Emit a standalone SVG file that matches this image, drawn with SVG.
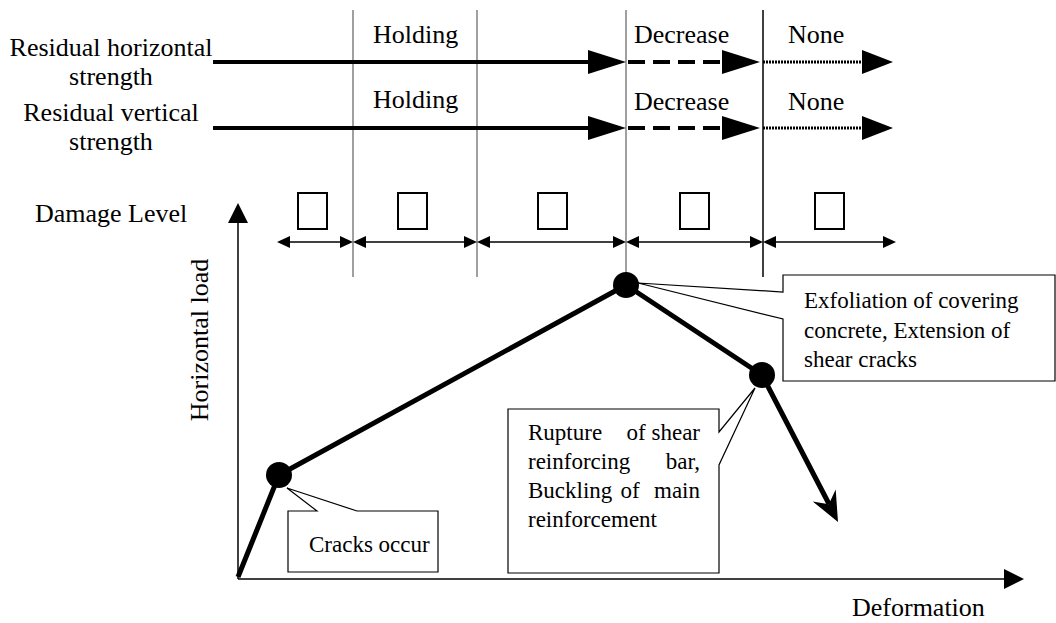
<svg xmlns="http://www.w3.org/2000/svg" width="1056" height="623" viewBox="0 0 1056 623">
<style>
text{font-family:"Liberation Serif",Tinos,"Times New Roman",Times,"DejaVu Serif","Noto Serif",serif;fill:#000}
.lab{font-size:26px}
.co{font-size:23px}
.grid{stroke:#808080;stroke-width:1.5;fill:none}
.thick{stroke:#000;stroke-width:4;fill:none}
.dash{stroke:#000;stroke-width:4;fill:none;stroke-dasharray:17 8}
.dot{stroke:#000;stroke-width:3;fill:none;stroke-dasharray:2 1}
.thin{stroke:#000;stroke-width:1.5;fill:none}
.box{stroke:#000;stroke-width:1.2;fill:#fff}
.lvl{stroke:#000;stroke-width:2;fill:#fff}
.head{fill:#000}
</style>
<g id="grid">
<line class="grid" x1="353" y1="10" x2="353" y2="277"/>
<line class="grid" x1="477" y1="10" x2="477" y2="277"/>
<line class="grid" x1="626" y1="10" x2="626" y2="277"/>
<line class="grid" x1="763" y1="10" x2="763" y2="277" style="stroke:#000"/>
</g>
<g id="labels">
<text class="lab" x="111" y="56" text-anchor="middle">Residual horizontal</text>
<text class="lab" x="111" y="85" text-anchor="middle">strength</text>
<text class="lab" x="111" y="121" text-anchor="middle">Residual vertical</text>
<text class="lab" x="111" y="150" text-anchor="middle">strength</text>
<text class="lab" x="35" y="222">Damage Level</text>
<text class="lab" x="373" y="43">Holding</text>
<text class="lab" x="373" y="108">Holding</text>
<text class="lab" x="634" y="43">Decrease</text>
<text class="lab" x="634" y="110">Decrease</text>
<text class="lab" x="788" y="43">None</text>
<text class="lab" x="788" y="110">None</text>
<text class="lab" x="852" y="616">Deformation</text>
<text class="lab" transform="translate(208,340) rotate(-90)" text-anchor="middle">Horizontal load</text>
</g>
<g id="connectors">
<line class="thick" x1="213" y1="62" x2="592" y2="62"/>
<polygon class="head" points="588,50 626,62 588,74"/>
<line class="dash" x1="628" y1="62" x2="724" y2="62"/>
<polygon class="head" points="722,50 760,62 722,74"/>
<line class="dot" x1="763" y1="62" x2="864" y2="62"/>
<polygon class="head" points="862,50 893,62 862,74"/>
<line class="thick" x1="213" y1="128" x2="592" y2="128"/>
<polygon class="head" points="588,116 626,128 588,140"/>
<line class="dash" x1="628" y1="128" x2="724" y2="128"/>
<polygon class="head" points="722,116 760,128 722,140"/>
<line class="dot" x1="763" y1="128" x2="864" y2="128"/>
<polygon class="head" points="862,116 893,128 862,140"/>
<line class="thin" x1="280" y1="242" x2="350" y2="242"/>
<polygon class="head" points="277,242 290,236 290,248"/>
<polygon class="head" points="353,242 340,236 340,248"/>
<line class="thin" x1="356" y1="242" x2="474" y2="242"/>
<polygon class="head" points="353,242 366,236 366,248"/>
<polygon class="head" points="477,242 464,236 464,248"/>
<line class="thin" x1="480" y1="242" x2="623" y2="242"/>
<polygon class="head" points="477,242 490,236 490,248"/>
<polygon class="head" points="626,242 613,236 613,248"/>
<line class="thin" x1="629" y1="242" x2="760" y2="242"/>
<polygon class="head" points="626,242 639,236 639,248"/>
<polygon class="head" points="763,242 750,236 750,248"/>
<line class="thin" x1="766" y1="242" x2="893" y2="242"/>
<polygon class="head" points="763,242 776,236 776,248"/>
<polygon class="head" points="896,242 883,236 883,248"/>
<line class="thin" x1="238" y1="579" x2="238" y2="220"/>
<polygon class="head" points="238,203 248,223 228,223"/>
<line class="thin" x1="238" y1="579" x2="1006" y2="579"/>
<polygon class="head" points="1024,579 1004,569 1004,589"/>
<polyline points="238,577 279,475 626,285 762,375 829,504" style="stroke:#000;stroke-width:5;fill:none;stroke-linejoin:round"/>
<polygon class="head" points="838,522 812.7,501.4 828.8,504.2 835.7,489.4"/>
</g>
<g id="level-boxes">
<rect class="lvl" x="298" y="193" width="29" height="36"/>
<rect class="lvl" x="398" y="193" width="29" height="36"/>
<rect class="lvl" x="538" y="193" width="29" height="36"/>
<rect class="lvl" x="680" y="193" width="29" height="36"/>
<rect class="lvl" x="815" y="193" width="29" height="36"/>
</g>
<g id="callout-exfoliation">
<path class="box" d="M783,275 H1055 V381 H783 V319 L638,283 L783,292 Z"/>
<text class="co" x="804" y="308">Exfoliation of covering</text>
<text class="co" x="804" y="338">concrete, Extension of</text>
<text class="co" x="804" y="367">shear cracks</text>
</g>
<g id="callout-rupture">
<path class="box" d="M508,409 H719 V432 L755,388 L719,465 V573 H508 Z"/>
<text class="co" y="440"><tspan x="528">Rupture</tspan><tspan x="636" text-anchor="middle">of</tspan><tspan x="700" text-anchor="end">shear</tspan></text>
<text class="co" y="469"><tspan x="528">reinforcing</tspan><tspan x="700" text-anchor="end">bar,</tspan></text>
<text class="co" y="498"><tspan x="528">Buckling</tspan><tspan x="630" text-anchor="middle">of</tspan><tspan x="700" text-anchor="end">main</tspan></text>
<text class="co" x="528" y="527">reinforcement</text>
</g>
<g id="callout-cracks">
<path class="box" d="M288,511 H317 L287,488 L357,511 H438 V572 H288 Z"/>
<text class="co" x="309" y="552">Cracks occur</text>
</g>
<g id="points">
<circle cx="279" cy="475" r="13" fill="#000"/>
<circle cx="626" cy="285" r="13" fill="#000"/>
<circle cx="762" cy="375" r="13" fill="#000"/>
</g>
</svg>
